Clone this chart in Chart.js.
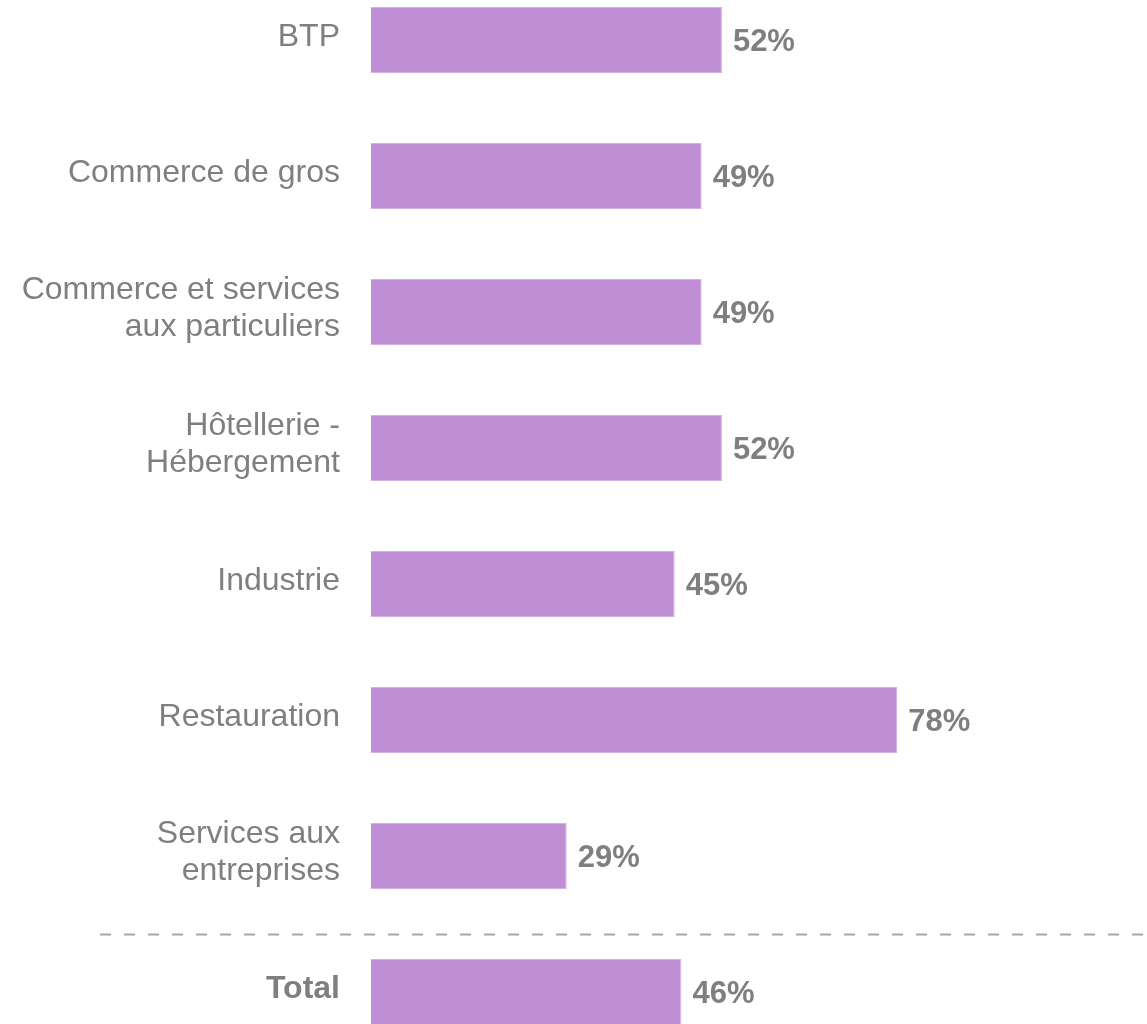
<!DOCTYPE html>
<html>
<head>
<meta charset="utf-8">
<script src="https://cdn.jsdelivr.net/npm/chart.js@4"></script>
<style>
  html, body { margin: 0; padding: 0; background: #fff; overflow: hidden; }
  #wrap { position: absolute; left: 0; top: -28px; width: 1147px; height: 1088px; }
</style>
</head>
<body>
<div id="wrap"><canvas id="barChart" width="1147" height="1088"></canvas></div>
<script>
const categories = [
    'BTP',
    'Commerce de gros',
    ['Commerce et services', 'aux particuliers'],
    ['Hôtellerie -', 'Hébergement'],
    'Industrie',
    'Restauration',
    ['Services aux', 'entreprises'],
    'Total'
];
const values = [52, 49, 49, 52, 45, 78, 29, 46];

const FONT = '"Liberation Sans", Arial, sans-serif';
const GREY = '#7f7f7f';

// percentage labels right of each bar
const valueLabels = {
    id: 'valueLabels',
    afterDatasetsDraw(chart) {
        const ctx = chart.ctx;
        const meta = chart.getDatasetMeta(0);
        ctx.save();
        ctx.font = 'bold 31px ' + FONT;
        ctx.fillStyle = GREY;
        ctx.textAlign = 'left';
        ctx.textBaseline = 'middle';
        meta.data.forEach((bar, i) => {
            ctx.fillText(values[i] + '%', bar.x + 11, bar.y + 2);
        });
        ctx.restore();
    }
};

// dashed separator before the Total row
const separator = {
    id: 'separator',
    afterDraw(chart) {
        const ctx = chart.ctx;
        const y = Math.round(chart.scales.y.getPixelForValue(6.57)) + 0.5;
        ctx.save();
        ctx.strokeStyle = '#a6a6a6';
        ctx.lineWidth = 2;
        ctx.setLineDash([11, 13]);
        ctx.beginPath();
        ctx.moveTo(100, y);
        ctx.lineTo(chart.width, y);
        ctx.stroke();
        ctx.restore();
    }
};

const ctx = document.getElementById('barChart').getContext('2d');
new Chart(ctx, {
    type: 'bar',
    data: {
        labels: categories,
        datasets: [{
            data: values,
            backgroundColor: '#bf8ed5',
            borderColor: '#d4b0e3',
            borderWidth: 1,
            categoryPercentage: 0.485,
            barPercentage: 1
        }]
    },
    options: {
        indexAxis: 'y',
        responsive: false,
        animation: false,
        layout: { padding: 0 },
        plugins: {
            legend: { display: false },
            tooltip: { enabled: false }
        },
        scales: {
            x: {
                display: false,
                min: 0,
                max: 115
            },
            y: {
                afterFit: (scale) => {
                    scale.width = 371;
                    scale.paddingTop = 0;
                    scale.paddingBottom = 0;
                },
                grid: { display: false, drawTicks: false },
                border: { display: false },
                ticks: {
                    padding: 31,
                    labelOffset: -3,
                    color: GREY,
                    font: (c) => ({
                        family: FONT,
                        size: 32,
                        lineHeight: 1.156,
                        weight: c.index === 7 ? 'bold' : 'normal'
                    })
                }
            }
        }
    },
    plugins: [valueLabels, separator]
});
</script>
</body>
</html>
